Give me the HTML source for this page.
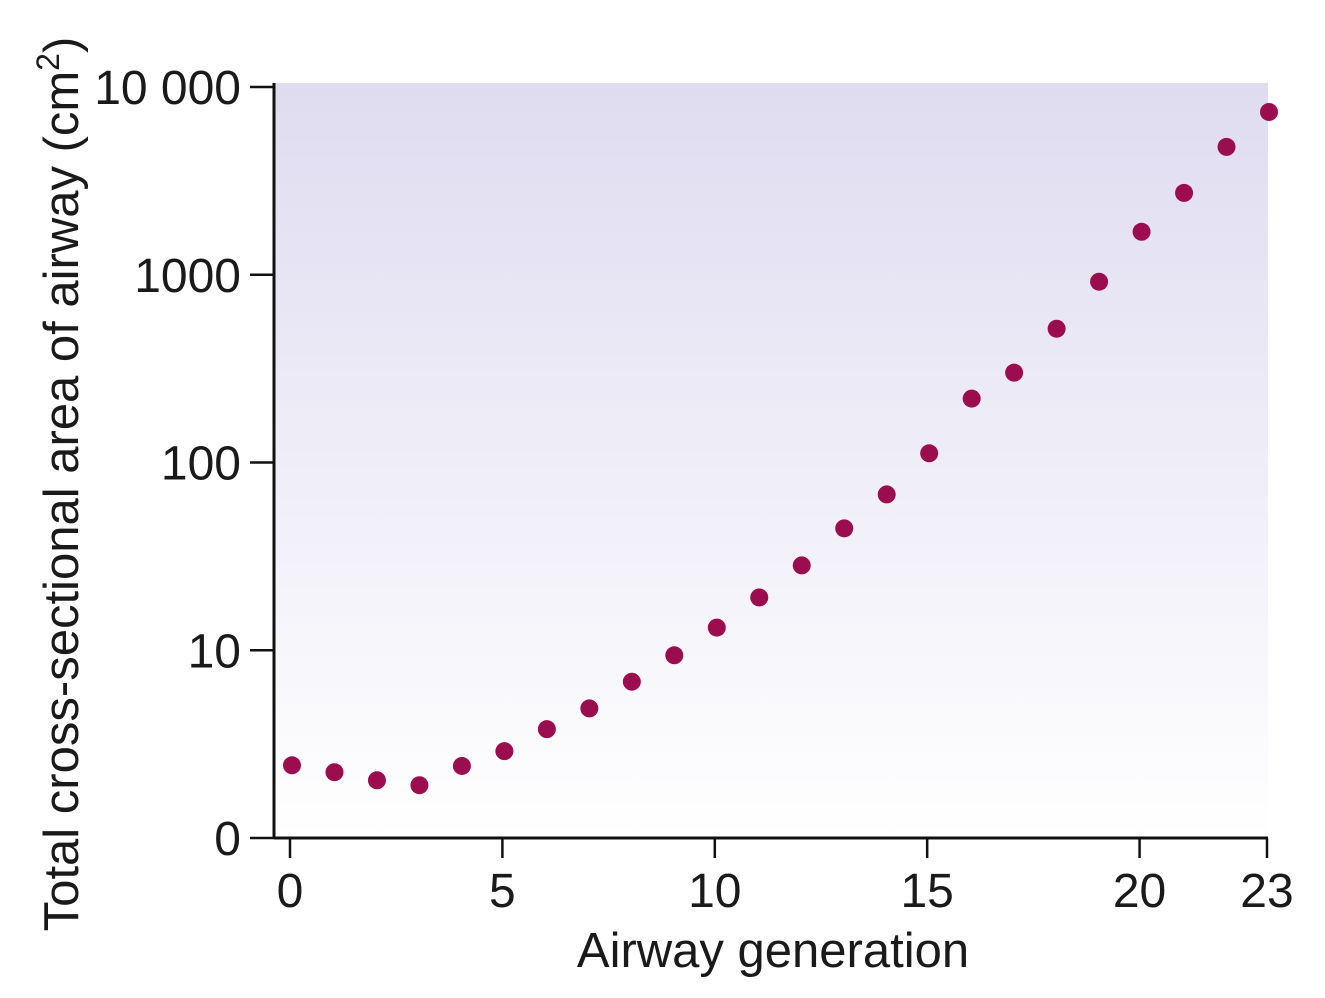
<!DOCTYPE html>
<html><head><meta charset="utf-8"><style>
body{margin:0;background:#fff;}
svg text{font-family:"Liberation Sans",Arial,sans-serif;fill:#1a1a1a;}
</style></head><body>
<svg id="chart" width="1325" height="993" viewBox="0 0 1325 993" xmlns="http://www.w3.org/2000/svg">
<defs><linearGradient id="bg" x1="0" y1="0" x2="0" y2="1"><stop offset="0" stop-color="#dfdcf0"/><stop offset="1" stop-color="#ffffff"/></linearGradient></defs>
<rect x="274" y="83" width="994" height="755" fill="url(#bg)"/>
<g id="marks"></g>
<g id="axes"></g>
<text transform="translate(78,484) rotate(-90)" text-anchor="middle" font-size="49">Total cross-sectional area of airway (cm<tspan font-size="32" dy="-19">2</tspan><tspan dy="19">)</tspan></text>
<text x="773" y="967" text-anchor="middle" font-size="49">Airway generation</text>
</svg>
<script>
const generations=[0,1,2,3,4,5,6,7,8,9,10,11,12,13,14,15,16,17,18,19,20,21,22,23];
const areas=[2.44,2.24,2.03,1.91,2.42,2.9,3.8,4.9,6.8,9.4,13.2,19.1,28.3,44.6,67.6,112,219,301,516,918,1694,2729,4797,7360];
const xTicks=[0,5,10,15,20,23];
const yTicks=[1,10,100,1000,10000];
const yTickLabels=["0","10","100","1000","10 000"];
const NS="http://www.w3.org/2000/svg";
const xs=g=>290+g*(1267-290)/23;
const ys=v=>838-Math.log10(v)*187.75;
function mk(t,a,p){const e=document.createElementNS(NS,t);for(const k in a)e.setAttribute(k,a[k]);p.appendChild(e);return e;}
const marks=document.getElementById('marks'),axes=document.getElementById('axes');
generations.forEach((g,i)=>{
 const c=mk('circle',{cx:xs(g)+2,cy:ys(areas[i]),r:9,fill:'#9b0d4f'},marks);
 
 
});
const ya=mk('line',{x1:274,y1:83,x2:274,y2:838,stroke:'#111','stroke-width':3},axes);


const xa=mk('line',{x1:274,y1:838,x2:1268,y2:838,stroke:'#111','stroke-width':3},axes);


yTicks.forEach((v,i)=>{
 const y=ys(v);
 mk('line',{x1:250,y1:y,x2:274,y2:y,stroke:'#111','stroke-width':2.5},axes);
 const t=mk('text',{x:241,y:y+17,'text-anchor':'end','font-size':48},axes);
 t.textContent=yTickLabels[i];
 
 
});
xTicks.forEach(g=>{
 const x=xs(g);
 mk('line',{x1:x,y1:838,x2:x,y2:858,stroke:'#111','stroke-width':2.5},axes);
 const t=mk('text',{x:x,y:907,'text-anchor':'middle','font-size':48},axes);
 t.textContent=g;
 
 
});
</script>
</body></html>
